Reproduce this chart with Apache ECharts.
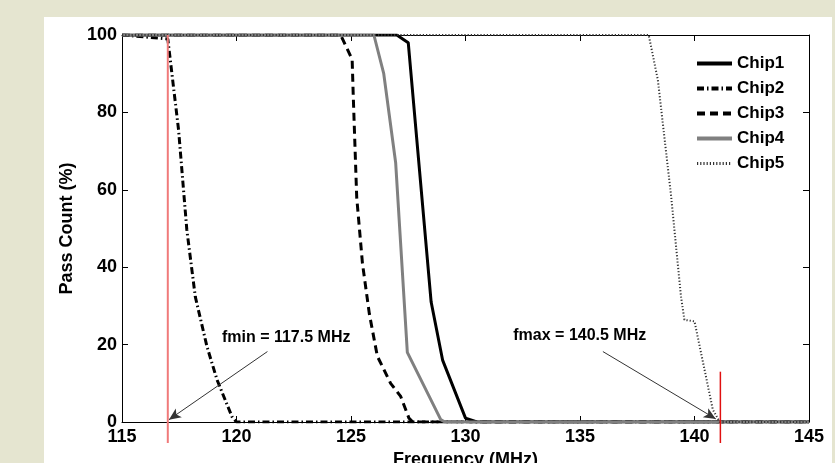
<!DOCTYPE html>
<html lang="en">
<head>
  <meta charset="UTF-8">
  <title>Pass Count vs Frequency</title>
  <script src="https://cdn.jsdelivr.net/npm/echarts@6/dist/echarts.min.js"></script>
  <style>
    html, body { margin: 0; padding: 0; background: #e5e5d0; }
    #chart { width: 835px; height: 463px; }
  </style>
</head>
<body>
  <div id="chart"></div>

  <script>
    // axis ticks
    const xTicks = [115, 120, 125, 130, 135, 140, 145];
    const yTicks = [0, 20, 40, 60, 80, 100];

    // pass count curves (frequency in MHz, pass count in %)
    const chip1Freq = [115, 127.0, 127.5, 128.5, 129.0, 130.0, 130.5, 145];
    const chip1Pass = [100, 100, 98, 31, 16, 1, 0, 0];

    const chip2Freq = [115, 117.0, 117.47, 117.83, 118.2, 118.71, 119.15, 119.8, 120.0, 145];
    const chip2Pass = [100, 99, 75.5, 49.7, 32.4, 19.5, 10.9, 1.4, 0, 0];

    const chip3Freq = [115, 124.55, 125.05, 125.1, 125.25, 125.5, 125.8, 126.15, 126.73, 127.17, 127.53, 127.7, 145];
    const chip3Pass = [100, 100, 93.7, 84, 58, 41, 28, 17, 10, 6.6, 1, 0, 0];

    const chip4Freq = [115, 126.0, 126.43, 126.95, 127.46, 128.92, 129.1, 145];
    const chip4Pass = [100, 100, 90, 67, 18, 0.6, 0, 0];

    const chip5Freq = [115, 138.0, 138.4, 138.98, 139.41, 139.56, 140.0, 140.8, 141.1, 145];
    const chip5Pass = [100, 100, 88.4, 58.3, 32.4, 26.4, 26, 3.2, 0, 0];

    // limit markers (red vertical lines)
    const limitFreq = [117, 141.13];
    const limitTop = [100, 13];

    // annotations
    const noteText = ['fmin = 117.5 MHz', 'fmax = 140.5 MHz'];
    const notePos = [[122.17, 21.7], [134.99, 22.3]];
    const arrowFrom = [[121.35, 18.2], [136.0, 18.2]];
    const arrowTo = [[117.05, 0.6], [140.93, 0.8]];

    const chipNames = ['Chip1', 'Chip2', 'Chip3', 'Chip4', 'Chip5'];
    const chipFreqs = [chip1Freq, chip2Freq, chip3Freq, chip4Freq, chip5Freq];
    const chipPasses = [chip1Pass, chip2Pass, chip3Pass, chip4Pass, chip5Pass];

    const FONT = 'Liberation Sans, Arial, sans-serif';

    const lineStyles = [
      { color: '#000000', width: 3, type: 'solid' },
      { color: '#000000', width: 3, type: [7, 3, 1.5, 3] },
      { color: '#000000', width: 3, type: [8, 5] },
      { color: '#808080', width: 3, type: 'solid' },
      { color: '#333333', width: 2, type: [1.2, 2] }
    ];
    // legend keys are drawn a bit heavier than the plot lines
    const legendWidths = [4, 4, 4, 4, 3];

    const chart = echarts.init(document.getElementById('chart'));

    const chipSeries = chipNames.map((name, i) => ({
      name: name,
      type: 'line',
      data: chipFreqs[i].map((f, j) => [f, chipPasses[i][j]]),
      showSymbol: false,
      symbol: 'none',
      lineStyle: lineStyles[i],
      itemStyle: { color: lineStyles[i].color },
      z: 3 + i
    }));

    const option = {
      animation: false,
      backgroundColor: '#e5e5d0',
      graphic: [{
        type: 'rect',
        shape: { x: 44, y: 17, width: 788, height: 460 },
        style: { fill: '#ffffff' },
        z: -10,
        silent: true
      }],
      grid: { left: 122, right: 26, top: 35, bottom: 41, outerBoundsMode: 'none', containLabel: false },
      legend: {
        data: chipNames.map((n, i) => ({
          name: n,
          lineStyle: { width: legendWidths[i] }
        })),
        orient: 'vertical',
        left: 690,
        top: 50,
        itemWidth: 35,
        itemHeight: 10,
        itemGap: 8,
        itemStyle: { opacity: 0 },
        textStyle: { fontFamily: FONT, fontWeight: 'bold', fontSize: 17, color: '#000' }
      },
      xAxis: [
        {
          type: 'value',
          min: 115, max: 145, interval: 5,
          name: 'Frequency (MHz)',
          nameLocation: 'middle',
          nameGap: 21,
          nameTextStyle: { fontFamily: FONT, fontWeight: 'bold', fontSize: 18, color: '#000' },
          axisLine: { onZero: false, lineStyle: { color: '#000', width: 1 } },
          axisTick: { inside: true, length: 6, lineStyle: { color: '#000' } },
          axisLabel: {
            margin: 6,
            fontFamily: FONT, fontWeight: 'bold', fontSize: 18, color: '#000',
            formatter: v => xTicks.includes(v) ? String(v) : ''
          },
          splitLine: { show: false }
        },
        {
          type: 'value',
          position: 'top',
          min: 115, max: 145, interval: 5,
          axisLine: { onZero: false, lineStyle: { color: '#000', width: 1 } },
          axisTick: { inside: true, length: 6, lineStyle: { color: '#000' } },
          axisLabel: { show: false },
          splitLine: { show: false }
        }
      ],
      yAxis: [
        {
          type: 'value',
          min: 0, max: 100, interval: 20,
          name: 'Pass Count (%)',
          nameLocation: 'middle',
          nameGap: 41,
          nameTextStyle: { fontFamily: FONT, fontWeight: 'bold', fontSize: 18, color: '#000' },
          axisLine: { show: true, onZero: false, lineStyle: { color: '#000', width: 1 } },
          axisTick: { show: true, inside: true, length: 6, lineStyle: { color: '#000' } },
          axisLabel: {
            margin: 5,
            fontFamily: FONT, fontWeight: 'bold', fontSize: 18, color: '#000',
            formatter: v => yTicks.includes(v) ? String(v) : ''
          },
          splitLine: { show: false }
        },
        {
          type: 'value',
          position: 'right',
          min: 0, max: 100, interval: 20,
          axisLine: { show: true, onZero: false, lineStyle: { color: '#000', width: 1 } },
          axisTick: { show: true, inside: true, length: 6, lineStyle: { color: '#000' } },
          axisLabel: { show: false },
          splitLine: { show: false }
        }
      ],
      series: chipSeries.concat([
        {
          name: 'limits',
          type: 'custom',
          clip: false,
          silent: true,
          z: 10,
          data: limitFreq.map((f, i) => [f, limitTop[i]]),
          renderItem: (params, api) => {
            const top = api.coord([api.value(0), api.value(1)]);
            const bot = api.coord([api.value(0), 0]);
            const first = params.dataIndex === 0;
            return {
              type: 'line',
              shape: { x1: top[0], y1: top[1], x2: bot[0], y2: bot[1] + 21 },
              style: { stroke: first ? '#f07a7a' : '#e01010', lineWidth: first ? 2 : 1.5 }
            };
          }
        },
        {
          name: 'notes',
          type: 'custom',
          clip: false,
          silent: true,
          z: 11,
          data: notePos.map((p, i) => [p[0], p[1], i]),
          renderItem: (params, api) => {
            const pt = api.coord([api.value(0), api.value(1)]);
            return {
              type: 'text',
              style: {
                text: noteText[params.dataIndex],
                x: pt[0], y: pt[1],
                align: 'center', verticalAlign: 'middle',
                fontFamily: FONT, fontWeight: 'bold', fontSize: 16,
                fill: '#000'
              }
            };
          },
          markLine: {
            silent: true,
            symbol: ['none', 'arrow'],
            symbolSize: [8, 12],
            label: { show: false },
            lineStyle: { color: '#333', width: 1, type: 'solid' },
            data: arrowFrom.map((a, i) => [{ coord: a }, { coord: arrowTo[i] }])
          }
        }
      ])
    };

    chart.setOption(option);
  </script>
</body>
</html>
